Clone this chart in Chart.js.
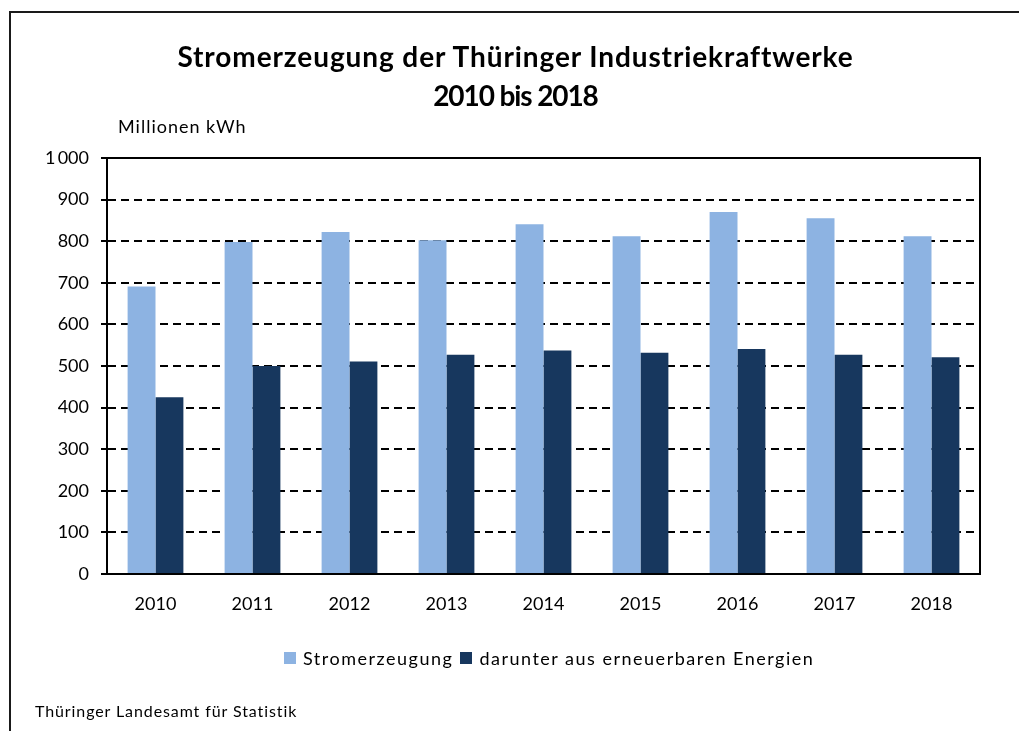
<!DOCTYPE html>
<html lang="de">
<head>
<meta charset="utf-8">
<title>Stromerzeugung der Thüringer Industriekraftwerke</title>
<script src="https://cdn.jsdelivr.net/npm/chart.js@4/dist/chart.umd.min.js"></script>
<style>
  html, body { margin: 0; padding: 0; background: #fff; }
  body { width: 1019px; height: 731px; position: relative; overflow: hidden; font-family: Lato, 'Open Sans', sans-serif; color: #000; }
  .frame { position: absolute; left: 9px; top: 11px; right: 0; bottom: 0; border-left: 2px solid #1a1a1a; border-top: 2px solid #1a1a1a; }
  #chart { position: absolute; left: 0; top: 0; }
  .title { position: absolute; left: 0; width: 1031px; text-align: center; font-weight: bold; font-size: 28px; line-height: 38px; }
  .unit { position: absolute; left: 118px; top: 115px; font-size: 18px; letter-spacing: 1px; }
  .source { position: absolute; left: 35px; top: 701px; font-size: 16px; letter-spacing: 0.9px; }
  #legend { position: absolute; left: 284px; top: 647px; font-size: 18px; letter-spacing: 1.5px; white-space: nowrap; }
  #legend span.item { display: inline-block; margin-right: 7px; }
  #legend i { display: inline-block; width: 12px; height: 12px; margin-right: 7px; vertical-align: 1px; }
</style>
</head>
<body>
<div class="frame"></div>
<canvas id="chart" width="1019" height="731"></canvas>
<div class="title" style="top:37px; letter-spacing:0.9px">Stromerzeugung der Thüringer Industriekraftwerke</div>
<div class="title" style="top:76px; letter-spacing:-1.1px">2010 bis 2018</div>
<div class="unit">Millionen kWh</div>
<div id="legend"></div>
<div class="source">Thüringer Landesamt für Statistik</div>

<script>
(function(Chart) {
  'use strict';

  // values, Millionen kWh
  var years = ['2010', '2011', '2012', '2013', '2014', '2015', '2016', '2017', '2018'];
  var stromerzeugung = [691, 798, 822, 802, 841, 812, 870, 855, 812];
  var erneuerbar = [425, 500, 511, 527, 537, 532, 541, 527, 521];
  var yTicks = [0, 100, 200, 300, 400, 500, 600, 700, 800, 900, 1000];

  var seriesLabels = ['Stromerzeugung', 'darunter aus erneuerbaren Energien'];
  var colors = ['#8db3e2', '#17375e'];

  var font = { family: 'Lato, "Open Sans", sans-serif', size: 18 };

  // solid frame round the plot area (top and right edges)
  var plotFrame = {
    id: 'plotFrame',
    afterDraw: function(chart) {
      var a = chart.chartArea;
      var ctx = chart.ctx;
      ctx.save();
      ctx.strokeStyle = '#000';
      ctx.lineWidth = 2;
      ctx.strokeRect(a.left, a.top, a.right - a.left, a.bottom - a.top);
      ctx.restore();
    }
  };

  var chart = new Chart(document.getElementById('chart'), {
    type: 'bar',
    data: {
      labels: years,
      datasets: [
        { label: seriesLabels[0], data: stromerzeugung, backgroundColor: colors[0] },
        { label: seriesLabels[1], data: erneuerbar, backgroundColor: colors[1] }
      ]
    },
    options: {
      responsive: false,
      animation: false,
      events: [],
      layout: { padding: { top: 158, left: 0, right: 39, bottom: 117 } },
      datasets: { bar: { barPercentage: 1, categoryPercentage: 0.575 } },
      plugins: { legend: { display: false }, tooltip: { enabled: false } },
      scales: {
        x: {
          grid: { display: false, drawTicks: false },
          border: { display: true, color: '#000', width: 2 },
          ticks: { color: '#000', font: font, padding: 19, maxRotation: 0 },
          afterFit: function(scale) { scale.height = 40; }
        },
        y: {
          min: 0,
          max: 1000,
          afterBuildTicks: function(scale) {
            scale.ticks = yTicks.map(function(v) { return { value: v }; });
          },
          grid: { color: '#000', lineWidth: 2, tickLength: 6, tickColor: '#000', tickWidth: 2 },
          border: { display: true, color: '#000', width: 2, dash: [8, 5] },
          ticks: {
            color: '#000',
            font: font,
            padding: 12,
            callback: function(v) { return v >= 1000 ? '1\u2009000' : String(v); }
          },
          afterFit: function(scale) { scale.width = 107; }
        }
      }
    },
    plugins: [plotFrame]
  });

  // legend built from the chart's own datasets
  var legend = document.getElementById('legend');
  chart.data.datasets.forEach(function(ds) {
    var item = document.createElement('span');
    item.className = 'item';
    var box = document.createElement('i');
    box.style.background = ds.backgroundColor;
    item.appendChild(box);
    item.appendChild(document.createTextNode(ds.label));
    legend.appendChild(item);
  });

}(Chart));
</script>
</body>
</html>
